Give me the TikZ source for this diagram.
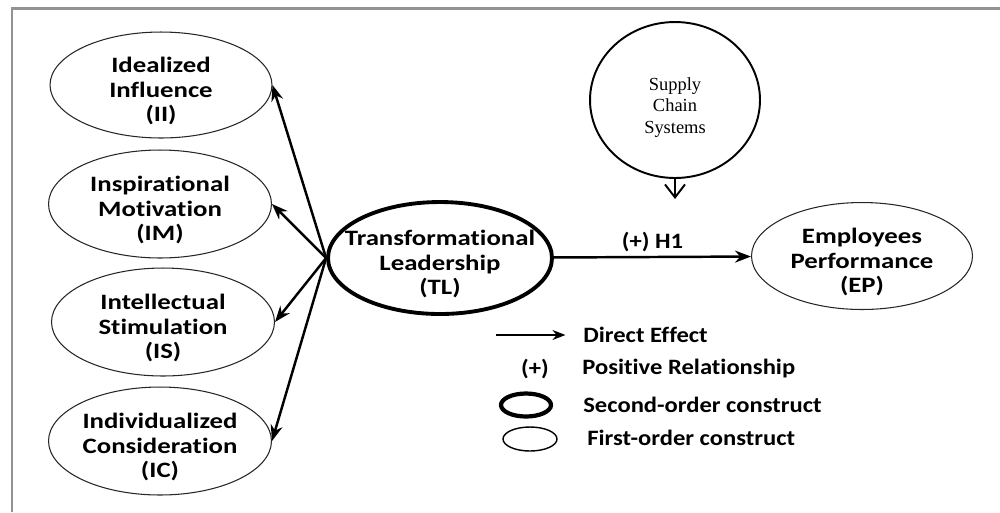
\documentclass[tikz,border=0pt]{standalone}
\usepackage{fontspec}
\setmainfont{Carlito}[Ligatures=CommonOff]
\newfontfamily\scsfont{Liberation Serif}
\usepackage{tikz}
\usetikzlibrary{arrows.meta, positioning, shapes.geometric}

\begin{document}
\begin{tikzpicture}[
	x=0.02cm, y=-0.02cm,
	label font/.style = {font=\fontsize{12.5}{14}\selectfont\bfseries\addfontfeature{FakeStretch=1.22}},
	legend font/.style = {font=\fontsize{12.5}{14}\selectfont\bfseries\addfontfeature{FakeStretch=1.12}},
	construct/.style = {ellipse, draw=black!85, line width=0.6pt, inner ysep=0pt, inner xsep=-0.4cm,
		align=center, text height=42pt, text depth=0pt, label font},
	first/.style = {construct, minimum width=4.46cm, minimum height=2.16cm},
	second/.style = {construct, draw=black, line width=2.2pt, minimum width=4.48cm, minimum height=2.24cm},
	arrow/.style = {-{Stealth[length=3.2mm, width=2.4mm]}, line width=1.4pt},
	legend/.style = {anchor=west, inner sep=0pt, legend font}
]

\useasboundingbox (0,0) rectangle (1000,512);
\draw[gray!85, line width=1.5pt] (12,512) -- (12,8.5) -- (1000,8.5);

% first-order constructs
\node[first, minimum width=4.44cm, minimum height=2.12cm] (II) at (161,85) {Idealized\\Influence\\(II)};
\node[first] (IM) at (160,204) {Inspirational\\Motivation\\(IM)};
\node[first] (IS) at (163,322) {Intellectual\\Stimulation\\(IS)};
\node[first] (IC) at (160,441) {Individualized\\Consideration\\(IC)};

\node[second] (TL) at (440,258) {Transformational\\Leadership\\(TL)};
\node[first, minimum width=4.42cm, minimum height=2.14cm] (EP) at (862,256) {Employees\\Performance\\(EP)};

\node[ellipse, draw, line width=1.1pt, minimum width=3.4cm, minimum height=3.12cm] (SCS) at (675,100) {};
\node[align=center, font=\scsfont\fontsize{10.5}{12.2}\selectfont] (SCS text) at ([yshift=-0.15cm]SCS.center) {Supply\\Chain\\Systems};
\coordinate (SCS tip) at (675,199);
\draw[-{Straight Barb[length=2.6mm, width=4mm]}, line width=1.1pt] (SCS) -- (SCS tip);

\foreach \c in {II, IM, IS, IC} {
	\draw[arrow] (TL.west) -- (\c.east);
}
\draw[arrow] (TL) -- node[above=-1pt, legend font] (H1) {(+) H1} (EP);

% legend
\coordinate (leg arrow) at (496,335);
\node[legend] (direct) at (583,335) {Direct Effect};
\draw[-{Stealth[length=2.6mm, width=2mm]}, line width=0.9pt] (leg arrow) -- ([xshift=-10pt]direct.west);
\node[legend] (positive) at (582,369) {Positive Relationship};
\node[legend font] (plus) at (535,369) {(+)};
\node[ellipse, draw, line width=2.4pt, minimum width=1.0cm, minimum height=0.46cm, inner sep=0pt] (leg second) at (526,405) {};
\node[legend] (second text) at (583,405) {Second-order construct};
\node[ellipse, draw, line width=0.8pt, minimum width=1.08cm, minimum height=0.48cm, inner sep=0pt] (leg first) at (530,439) {};
\node[legend] (first text) at (587,438) {First-order construct};

\end{tikzpicture}
\end{document}
